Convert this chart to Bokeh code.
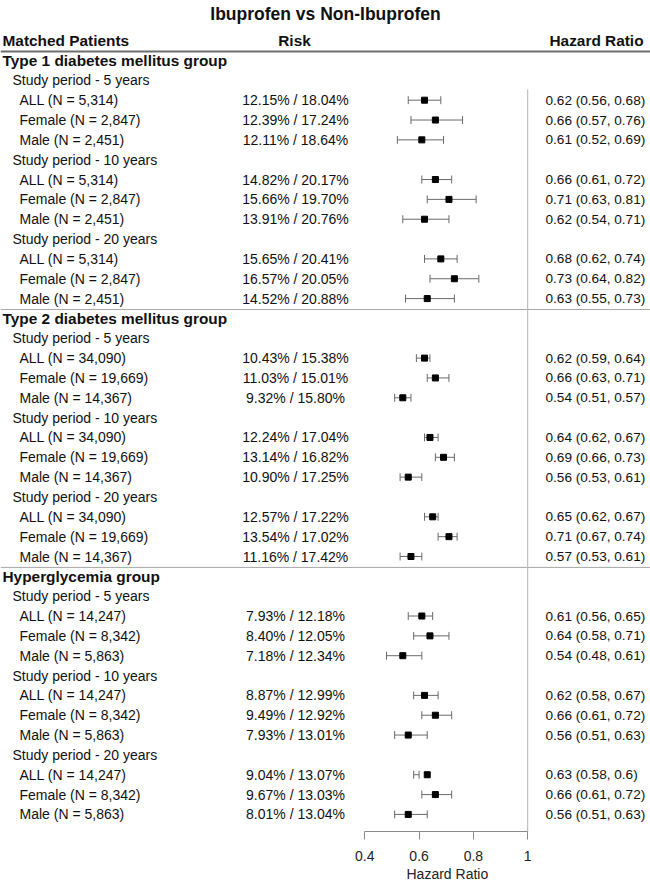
from bokeh.plotting import figure
from bokeh.models import Range1d, FixedTicker, CustomJSTickFormatter, ColumnDataSource, Title
from bokeh.core.properties import value
from bokeh.embed import file_html
from bokeh.resources import INLINE

# ---------------- data ----------------
title = "Ibuprofen vs Non-Ibuprofen"
col_headers = ["Matched Patients", "Risk", "Hazard Ratio"]
groups = ["Type 1 diabetes mellitus group", "Type 2 diabetes mellitus group", "Hyperglycemia group"]
periods = ["Study period - 5 years", "Study period - 10 years", "Study period - 20 years"]

subgroups = [
    "ALL (N = 5,314)", "Female (N = 2,847)", "Male (N = 2,451)",
    "ALL (N = 5,314)", "Female (N = 2,847)", "Male (N = 2,451)",
    "ALL (N = 5,314)", "Female (N = 2,847)", "Male (N = 2,451)",
    "ALL (N = 34,090)", "Female (N = 19,669)", "Male (N = 14,367)",
    "ALL (N =  34,090)", "Female (N = 19,669)", "Male (N = 14,367)",
    "ALL (N =  34,090)", "Female (N = 19,669)", "Male (N = 14,367)",
    "ALL (N = 14,247)", "Female (N = 8,342)", "Male (N = 5,863)",
    "ALL (N = 14,247)", "Female (N = 8,342)", "Male (N = 5,863)",
    "ALL (N = 14,247)", "Female (N = 8,342)", "Male (N = 5,863)",
]
risk = [
    "12.15% / 18.04%", "12.39% / 17.24%", "12.11% / 18.64%",
    "14.82% / 20.17%", "15.66% / 19.70%", "13.91% / 20.76%",
    "15.65% / 20.41%", "16.57% / 20.05%", "14.52% / 20.88%",
    "10.43% / 15.38%", "11.03% / 15.01%", "9.32% / 15.80%",
    "12.24% / 17.04%", "13.14% / 16.82%", "10.90% / 17.25%",
    "12.57% / 17.22%", "13.54% / 17.02%", "11.16% / 17.42%",
    "7.93% / 12.18%", "8.40% / 12.05%", "7.18% / 12.34%",
    "8.87% / 12.99%", "9.49% / 12.92%", "7.93% / 13.01%",
    "9.04% / 13.07%", "9.67% / 13.03%", "8.01% / 13.04%",
]
hr = [0.62, 0.66, 0.61, 0.66, 0.71, 0.62, 0.68, 0.73, 0.63,
      0.62, 0.66, 0.54, 0.64, 0.69, 0.56, 0.65, 0.71, 0.57,
      0.61, 0.64, 0.54, 0.62, 0.66, 0.56, 0.63, 0.66, 0.56]
hr_lo = [0.56, 0.57, 0.52, 0.61, 0.63, 0.54, 0.62, 0.64, 0.55,
         0.59, 0.63, 0.51, 0.62, 0.66, 0.53, 0.62, 0.67, 0.53,
         0.56, 0.58, 0.48, 0.58, 0.61, 0.51, 0.58, 0.61, 0.51]
hr_hi = [0.68, 0.76, 0.69, 0.72, 0.81, 0.71, 0.74, 0.82, 0.73,
         0.64, 0.71, 0.57, 0.67, 0.73, 0.61, 0.67, 0.74, 0.61,
         0.65, 0.71, 0.61, 0.67, 0.72, 0.63, 0.6, 0.72, 0.63]
hr_text = [
    "0.62 (0.56, 0.68)", "0.66 (0.57, 0.76)", "0.61 (0.52, 0.69)",
    "0.66 (0.61, 0.72)", "0.71 (0.63, 0.81)", "0.62 (0.54, 0.71)",
    "0.68 (0.62, 0.74)", "0.73 (0.64, 0.82)", "0.63 (0.55, 0.73)",
    "0.62 (0.59, 0.64)", "0.66 (0.63, 0.71)", "0.54 (0.51, 0.57)",
    "0.64 (0.62, 0.67)", "0.69 (0.66, 0.73)", "0.56 (0.53, 0.61)",
    "0.65 (0.62, 0.67)", "0.71 (0.67, 0.74)", "0.57 (0.53, 0.61)",
    "0.61 (0.56, 0.65)", "0.64 (0.58, 0.71)", "0.54 (0.48, 0.61)",
    "0.62 (0.58, 0.67)", "0.66 (0.61, 0.72)", "0.56 (0.51, 0.63)",
    "0.63 (0.58, 0.6)", "0.66 (0.61, 0.72)", "0.56 (0.51, 0.63)",
]
ref_value = 1.0
ticks = [0.4, 0.6, 0.8, 1.0]
tick_labels = ["0.4", "0.6", "0.8", "1"]
axis_title = "Hazard Ratio"

# ---------------- layout helpers ----------------
FW, FH = 650, 831          # frame size (canvas starts at page 0,0)
PX_PER = 271.5             # pixels per HR unit
X04 = 364.3                # page x of HR 0.4
x_start = 0.4 - X04 / PX_PER
x_end = x_start + FW / PX_PER
ROW0, ROWH = 60.0, 19.84   # page y of first row, row height
y_bottom = (FH - ROW0) / ROWH
y_top = (0 - ROW0) / ROWH


def px(page_x):
    return x_start + page_x / PX_PER


# row indices
group_rows = [13 * g for g in range(3)]
period_rows = [13 * g + 1 + 4 * k for g in range(3) for k in range(3)]
period_labels = [periods[k] for g in range(3) for k in range(3)]
data_rows = [13 * g + 2 + 4 * k + s for g in range(3) for k in range(3) for s in range(3)]

FONT = value("Liberation Sans")
TXT = "#111111"
BOLD_SIZE = "15.4px"

p = figure(width=FW, height=FH, frame_width=FW, frame_height=FH,
           x_range=Range1d(x_start, x_end), y_range=Range1d(y_bottom, y_top),
           output_backend="svg", toolbar_location=None, y_axis_location=None,
           min_border=0, min_border_left=0, min_border_right=0, min_border_top=0,
           min_border_bottom=0)
p.outline_line_color = None
p.xgrid.visible = False
p.ygrid.visible = False
p.background_fill_color = "white"
p.border_fill_color = "white"

# title and column headers
p.text(x=[px(325)], y=[-2.32], text=[title], text_font=FONT, text_font_size="17.5px",
       text_font_style="bold", text_align="center", text_baseline="middle", text_color=TXT)
p.text(x=[px(2), px(294), px(596)], y=[-1.0, -1.0, -1.0], text=col_headers,
       text_font=FONT, text_font_size=BOLD_SIZE, text_font_style="bold",
       text_align=["left", "center", "center"], text_baseline="middle", text_color=TXT)

# separator lines
p.segment(x0=[x_start], x1=[x_end], y0=[-0.45], y1=[-0.45], line_color="#6e6e6e", line_width=2)
p.segment(x0=[x_start, x_start], x1=[x_end, x_end], y0=[12.55, 25.55], y1=[12.55, 25.55],
          line_color="#a8a8a8", line_width=1)

# reference line at HR = 1
p.segment(x0=[ref_value], x1=[ref_value], y0=[1.46], y1=[y_bottom], line_color="#b4b4b4", line_width=1)

# group / period / subgroup labels
p.text(x=[px(2)] * 3, y=group_rows, text=groups, text_font=FONT, text_font_size=BOLD_SIZE,
       text_font_style="bold", text_baseline="middle", text_color=TXT)
p.text(x=[px(12)] * len(period_rows), y=period_rows, text=period_labels, text_font=FONT,
       text_font_size="14px", text_baseline="middle", text_color=TXT)

src = ColumnDataSource(dict(y=data_rows, sub=subgroups, risk=risk, hr=hr, lo=hr_lo, hi=hr_hi,
                            hrt=hr_text,
                            cap_lo=[r - 0.2 for r in data_rows], cap_hi=[r + 0.2 for r in data_rows]))
p.text(x=px(19), y="y", text="sub", source=src, text_font=FONT, text_font_size="14px",
       text_baseline="middle", text_color=TXT)
p.text(x=px(295), y="y", text="risk", source=src, text_font=FONT, text_font_size="14px",
       text_align="center", text_baseline="middle", text_color=TXT)
p.text(x=px(545), y="y", text="hrt", source=src, text_font=FONT, text_font_size="13.6px",
       text_baseline="middle", text_color=TXT)

# confidence intervals
CI = "#6a6a6a"
p.segment(x0="lo", x1="hi", y0="y", y1="y", source=src, line_color=CI, line_width=1)
p.segment(x0="lo", x1="lo", y0="cap_lo", y1="cap_hi", source=src, line_color=CI, line_width=1)
p.segment(x0="hi", x1="hi", y0="cap_lo", y1="cap_hi", source=src, line_color=CI, line_width=1)
p.scatter(x="hr", y="y", source=src, marker="square", size=6, color="black")

# x axis
ax = p.xaxis[0]
ax.bounds = (ticks[0], ticks[-1])
ax.ticker = FixedTicker(ticks=ticks, minor_ticks=[])
ax.formatter = CustomJSTickFormatter(
    args=dict(tvals=ticks, tlabels=tick_labels),
    code="const i = tvals.findIndex(t => Math.abs(t - tick) < 1e-9); return i >= 0 ? tlabels[i] : String(tick);")
ax.axis_line_color = "#8a8a8a"
ax.major_tick_line_color = "#8a8a8a"
ax.major_tick_in = 0
ax.major_tick_out = 8
ax.minor_tick_line_color = None
ax.major_label_standoff = 11
ax.major_label_text_font = "Liberation Sans"
ax.major_label_text_font_size = "14px"
ax.major_label_text_color = "#222222"

# axis title centred under the bounded axis (Bokeh centres axis labels on the frame)
axis_lbl = Title(text=axis_title, align="left", offset=406, standoff=0,
                 text_font="Liberation Sans", text_font_size="14px", text_font_style="normal",
                 text_color="#222222")
p.add_layout(axis_lbl, "below")

open("out.html", "w").write(file_html(p, INLINE))
